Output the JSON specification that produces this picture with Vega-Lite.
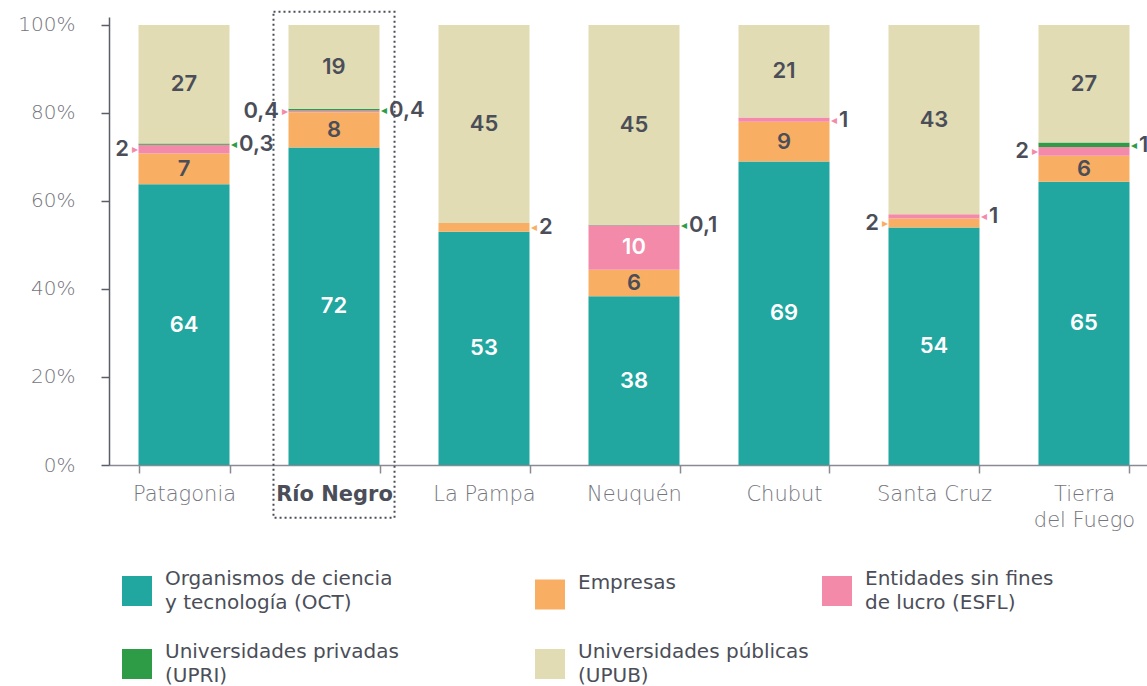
{
  "$schema": "https://vega.github.io/schema/vega-lite/v6.json",
  "width": 1038,
  "height": 448,
  "autosize": {"type": "none"},
  "padding": {"left": 109, "top": 17, "right": 0, "bottom": 221},
  "background": "white",
  "config": {
    "view": {"stroke": null},
    "font": "DejaVu Sans",
    "locale": {"number": {"decimal": ",", "thousands": ".", "grouping": [3], "currency": ["", " €"]}},
    "style": {"guide-label": {"lineHeight": 24}},
    "legend": {
      "title": null,
      "orient": "none",
      "rowPadding": 29,
      "columnPadding": 13,
      "padding": 0,
      "symbolType": "square",
      "symbolSize": 900,
      "symbolStrokeWidth": 0,
      "symbolOpacity": 1,
      "labelFontSize": 20,
      "labelFontWeight": 400,
      "labelColor": "#4b4e58",
      "labelOffset": 13,
      "labelLimit": 0,
      "labelBaseline": "line-bottom"
    }
  },
  "data": {
    "values": [
      {"region": "Patagonia", "cat": "OCT", "value": 64},
      {"region": "Patagonia", "cat": "Empresas", "value": 7},
      {"region": "Patagonia", "cat": "ESFL", "value": 2},
      {"region": "Patagonia", "cat": "UPRI", "value": 0.3},
      {"region": "Patagonia", "cat": "UPUB", "value": 27},
      {"region": "Río Negro", "cat": "OCT", "value": 72},
      {"region": "Río Negro", "cat": "Empresas", "value": 8},
      {"region": "Río Negro", "cat": "ESFL", "value": 0.4},
      {"region": "Río Negro", "cat": "UPRI", "value": 0.4},
      {"region": "Río Negro", "cat": "UPUB", "value": 19},
      {"region": "La Pampa", "cat": "OCT", "value": 53},
      {"region": "La Pampa", "cat": "Empresas", "value": 2},
      {"region": "La Pampa", "cat": "UPUB", "value": 45},
      {"region": "Neuquén", "cat": "OCT", "value": 38},
      {"region": "Neuquén", "cat": "Empresas", "value": 6},
      {"region": "Neuquén", "cat": "ESFL", "value": 10},
      {"region": "Neuquén", "cat": "UPRI", "value": 0.1},
      {"region": "Neuquén", "cat": "UPUB", "value": 45},
      {"region": "Chubut", "cat": "OCT", "value": 69},
      {"region": "Chubut", "cat": "Empresas", "value": 9},
      {"region": "Chubut", "cat": "ESFL", "value": 1},
      {"region": "Chubut", "cat": "UPUB", "value": 21},
      {"region": "Santa Cruz", "cat": "OCT", "value": 54},
      {"region": "Santa Cruz", "cat": "Empresas", "value": 2},
      {"region": "Santa Cruz", "cat": "ESFL", "value": 1},
      {"region": "Santa Cruz", "cat": "UPUB", "value": 43},
      {"region": "Tierra del Fuego", "cat": "OCT", "value": 65},
      {"region": "Tierra del Fuego", "cat": "Empresas", "value": 6},
      {"region": "Tierra del Fuego", "cat": "ESFL", "value": 2},
      {"region": "Tierra del Fuego", "cat": "UPRI", "value": 1},
      {"region": "Tierra del Fuego", "cat": "UPUB", "value": 27}
    ]
  },
  "transform": [
    {"stack": "value", "groupby": ["region"], "offset": "normalize", "as": ["y0", "y1"]}
  ],
  "encoding": {
    "x": {
      "field": "region",
      "type": "nominal",
      "sort": ["Patagonia", "Río Negro", "La Pampa", "Neuquén", "Chubut", "Santa Cruz", "Tierra del Fuego"],
      "scale": {"range": [0, 1050], "paddingInner": 0.3933, "paddingOuter": 0.1967},
      "axis": {
        "title": null,
        "labelAngle": 0,
        "domainColor": "#8a8b92",
        "domainWidth": 1.5,
        "tickColor": "#8a8b92",
        "tickWidth": 1.5,
        "tickSize": 8,
        "tickBand": "extent",
        "labelPadding": 10,
        "labelFontSize": 21,
        "labelLimit": 0,
        "labelLineHeight": 26,
        "labelFontWeight": {"condition": {"test": "datum.value == 'Río Negro'", "value": 700}, "value": 200},
        "labelColor": {"condition": {"test": "datum.value == 'Río Negro'", "value": "#4b4e58"}, "value": "#74757d"},
        "labelExpr": "datum.value == 'Tierra del Fuego' ? ['Tierra', 'del Fuego'] : datum.value"
      }
    }
  },
  "layer": [
    {
      "mark": {"type": "bar"},
      "encoding": {
        "y": {
          "field": "y0",
          "type": "quantitative",
          "scale": {"domain": [0, 1.01818], "nice": false, "zero": false},
          "axis": {
            "title": null,
            "values": [0, 0.2, 0.4, 0.6, 0.8, 1],
            "format": ".0%",
            "grid": false,
            "domainColor": "#5b5e68",
            "domainWidth": 1.5,
            "tickColor": "#5b5e68",
            "tickWidth": 1.5,
            "tickSize": 8,
            "labelPadding": 26,
            "labelFontSize": 20,
            "labelFontWeight": 200,
            "labelColor": "#74757d"
          }
        },
        "y2": {"field": "y1"},
        "color": {
          "field": "cat",
          "type": "nominal",
          "scale": {
            "domain": ["OCT", "Empresas", "ESFL", "UPRI", "UPUB"],
            "range": ["#21a6a0", "#f9af63", "#f38aa9", "#2e9c47", "#e1dcb3"]
          },
          "legend": {
            "values": ["OCT", "UPRI"],
            "legendX": 13,
            "legendY": 559,
            "direction": "vertical",
            "columns": 1,
            "labelExpr": "datum.value == 'OCT' ? ['Organismos de ciencia', 'y tecnología (OCT)'] : ['Universidades privadas', '(UPRI)']"
          }
        }
      }
    },
    {
      "mark": {"type": "bar", "opacity": 0},
      "encoding": {
        "y": {"field": "y0", "type": "quantitative"},
        "y2": {"field": "y1"},
        "fill": {
          "field": "cat",
          "type": "nominal",
          "scale": {
            "domain": ["Empresas", "ESFL", "UPUB", "OCT", "UPRI"],
            "range": ["#f9af63", "#f38aa9", "#e1dcb3", "#21a6a0", "#2e9c47"]
          },
          "legend": {
            "values": ["Empresas", "ESFL", "UPUB"],
            "legendX": 426,
            "legendY": 559,
            "direction": "horizontal",
            "columns": 2,
            "symbolOpacity": 1,
            "labelExpr": "datum.value == 'Empresas' ? 'Empresas' : datum.value == 'ESFL' ? ['Entidades sin fines', 'de lucro (ESFL)'] : ['Universidades públicas', '(UPUB)']"
          }
        }
      }
    },
    {
      "data": {"values": [{}]},
      "transform": [],
      "mark": {"type": "bar", "fill": "transparent", "stroke": "#4b4e58", "strokeWidth": 2, "strokeDash": [2, 3], "width": {"band": 1.33}},
      "encoding": {
        "x": {"datum": "Río Negro"},
        "y": {"datum": 1.03, "type": "quantitative"},
        "y2": {"datum": -0.12}
      }
    },
    {
      "transform": [
        {"filter": "datum.value >= 3"},
        {"fold": ["y0", "y1"], "as": ["k", "pos"]}
      ],
      "mark": {"type": "text", "font": "Inter", "fontSize": 22, "fontWeight": 600, "align": "center", "baseline": "middle"},
      "encoding": {
        "y": {"aggregate": "mean", "field": "pos", "type": "quantitative"},
        "text": {"field": "value", "type": "quantitative", "format": "~g"},
        "detail": {"field": "cat"},
        "color": {"condition": {"test": "datum.cat == 'OCT' || datum.cat == 'ESFL'", "value": "white"}, "value": "#4b4e58"}
      }
    },
    {
      "transform": [
        {"filter": "(datum.cat == 'ESFL' && (datum.region == 'Patagonia' || datum.region == 'Río Negro' || datum.region == 'Tierra del Fuego')) || (datum.cat == 'Empresas' && datum.region == 'Santa Cruz')"},
        {"fold": ["y0", "y1"], "as": ["k", "pos"]}
      ],
      "mark": {"type": "text", "font": "Inter", "fontSize": 22, "fontWeight": 600, "align": "right", "baseline": "middle", "dx": -55, "color": "#4b4e58"},
      "encoding": {
        "y": {"aggregate": "mean", "field": "pos", "type": "quantitative"},
        "text": {"field": "value", "type": "quantitative", "format": "~g"},
        "detail": {"field": "cat"}
      }
    },
    {
      "transform": [
        {"filter": "(datum.cat == 'ESFL' && (datum.region == 'Patagonia' || datum.region == 'Río Negro' || datum.region == 'Tierra del Fuego')) || (datum.cat == 'Empresas' && datum.region == 'Santa Cruz')"},
        {"fold": ["y0", "y1"], "as": ["k", "pos"]}
      ],
      "mark": {"type": "text", "font": "DejaVu Sans", "fontSize": 12, "align": "center", "baseline": "middle", "dx": -49, "text": "▸"},
      "encoding": {
        "y": {"aggregate": "mean", "field": "pos", "type": "quantitative"},
        "detail": {"field": "cat"},
        "color": {"condition": [{"test": "datum.cat == 'ESFL'", "value": "#f38aa9"}, {"test": "datum.cat == 'UPRI'", "value": "#2e9c47"}], "value": "#f9af63"}
      }
    },
    {
      "transform": [
        {"filter": "datum.value < 3 && !((datum.cat == 'ESFL' && (datum.region == 'Patagonia' || datum.region == 'Río Negro' || datum.region == 'Tierra del Fuego')) || (datum.cat == 'Empresas' && datum.region == 'Santa Cruz'))"},
        {"fold": ["y0", "y1"], "as": ["k", "pos"]}
      ],
      "mark": {"type": "text", "font": "Inter", "fontSize": 22, "fontWeight": 600, "align": "left", "baseline": "middle", "dx": 55, "color": "#4b4e58"},
      "encoding": {
        "y": {"aggregate": "mean", "field": "pos", "type": "quantitative"},
        "text": {"field": "value", "type": "quantitative", "format": "~g"},
        "detail": {"field": "cat"}
      }
    },
    {
      "transform": [
        {"filter": "datum.value < 3 && !((datum.cat == 'ESFL' && (datum.region == 'Patagonia' || datum.region == 'Río Negro' || datum.region == 'Tierra del Fuego')) || (datum.cat == 'Empresas' && datum.region == 'Santa Cruz'))"},
        {"fold": ["y0", "y1"], "as": ["k", "pos"]}
      ],
      "mark": {"type": "text", "font": "DejaVu Sans", "fontSize": 12, "align": "center", "baseline": "middle", "dx": 50, "text": "◂"},
      "encoding": {
        "y": {"aggregate": "mean", "field": "pos", "type": "quantitative"},
        "detail": {"field": "cat"},
        "color": {"condition": [{"test": "datum.cat == 'ESFL'", "value": "#f38aa9"}, {"test": "datum.cat == 'UPRI'", "value": "#2e9c47"}], "value": "#f9af63"}
      }
    }
  ]
}
